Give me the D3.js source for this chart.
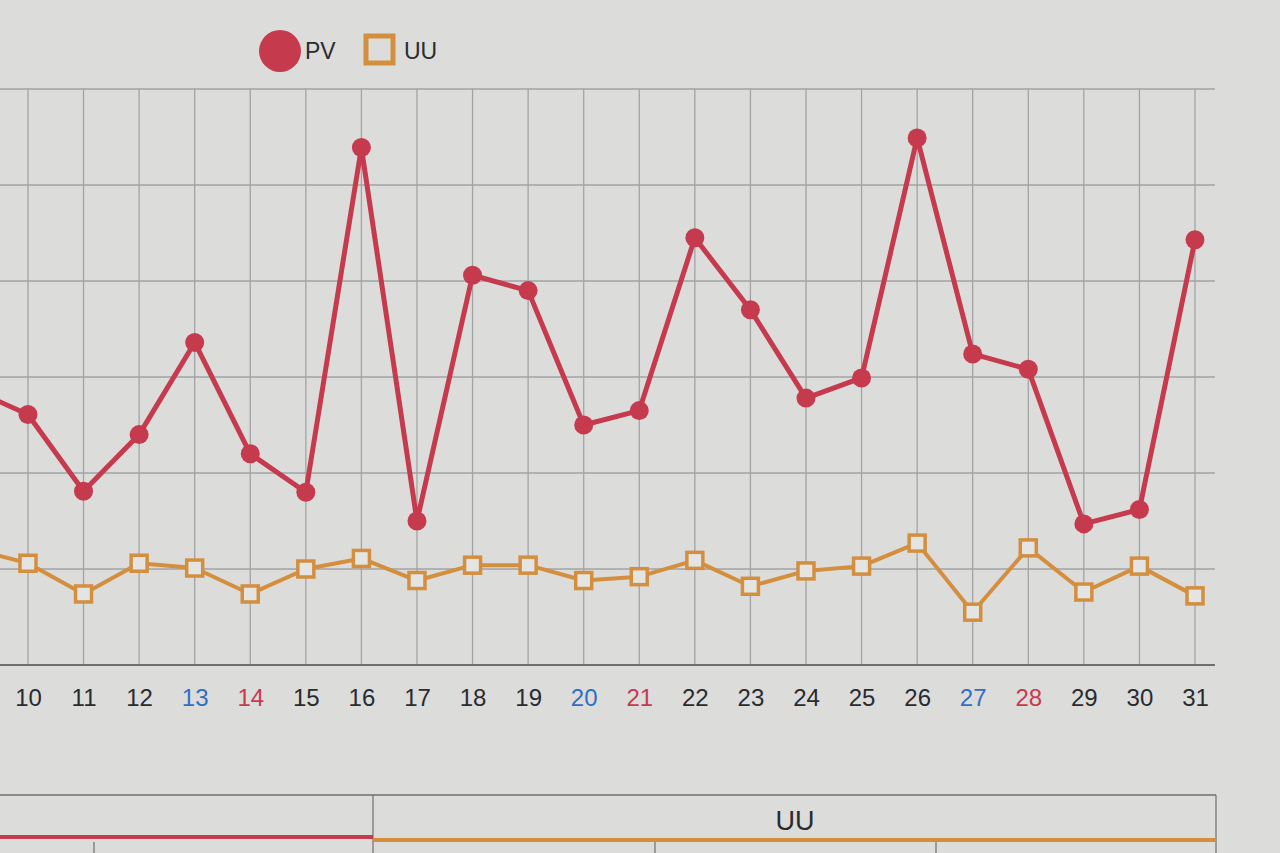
<!DOCTYPE html>
<html><head><meta charset="utf-8">
<script src="https://cdn.jsdelivr.net/npm/d3@7"></script>
<style>
html,body{margin:0;padding:0;background:#dcdcdb;overflow:hidden}
svg{display:block}
text{font-family:"Liberation Sans",Arial,sans-serif}
</style></head>
<body>
<svg id="c" width="1280" height="853"></svg>
<script>
const days = [9,10,11,12,13,14,15,16,17,18,19,20,21,22,23,24,25,26,27,28,29,30,31];
const pvValues = [287,261,181,240,336,220,180,539,150,406,390,250,265,445,370,278,299,549,324,308,147,162,443];
const uuValues = [121,106,74,106,101,74,100,111,88,104,104,88,92,109,82,98,103,127,55,122,76,103,72];
const labeledDays = [10,11,12,13,14,15,16,17,18,19,20,21,22,23,24,25,26,27,28,29,30,31];
const saturdays = [13,20,27];
const sundays = [14,21,28];
const yTicks = [0,100,200,300,400,500,600];
const seriesNames = ["PV","UU"];
const tableHeaders = ["UU"];

const PV_COLOR = "#c63a4e", UU_COLOR = "#d38f3e";
const svg = d3.select("#c");
const xLeft = -27.6, xRight = 1195, plotRight = 1215, plotLeft = -60;
const yTop = 89, yBottom = 665;

const x = d3.scalePoint().domain(days).range([xLeft, xRight]);
const y = d3.scaleLinear().domain([0,600]).range([yBottom, yTop]);

// horizontal grid
svg.append("g").selectAll("line").data(yTicks.filter(t=>t>0)).join("line")
  .attr("x1", plotLeft).attr("x2", plotRight)
  .attr("y1", d=>y(d)).attr("y2", d=>y(d))
  .attr("stroke", "#a2a3a5").attr("stroke-width", 1.3);
// vertical grid
svg.append("g").selectAll("line").data(days).join("line")
  .attr("x1", d=>x(d)).attr("x2", d=>x(d))
  .attr("y1", yTop).attr("y2", yBottom)
  .attr("stroke", "#a2a3a5").attr("stroke-width", 1.3);

// x axis
const xAxis = d3.axisBottom(x).tickValues(labeledDays).tickSize(0).tickPadding(24);
const gx = svg.append("g").attr("transform", `translate(0,${yBottom})`).call(xAxis);
gx.select(".domain").remove();
svg.append("line").attr("x1", plotLeft).attr("x2", plotRight).attr("y1", yBottom).attr("y2", yBottom)
  .attr("stroke", "#6e6f70").attr("stroke-width", 2);
gx.selectAll("text").attr("font-size", 24)
  .attr("fill", d => saturdays.includes(d) ? "#2f6fc4" : sundays.includes(d) ? "#c8394e" : "#2a2b2e");

// lines
const line = d3.line().x((d,i)=>x(days[i])).y(d=>y(d));
svg.append("path").datum(uuValues).attr("d", line).attr("fill","none")
  .attr("stroke", UU_COLOR).attr("stroke-width", 4).attr("stroke-linejoin","round");
svg.append("g").selectAll("rect").data(uuValues).join("rect")
  .attr("x", (d,i)=>x(days[i])-8).attr("y", d=>y(d)-8).attr("width",16).attr("height",16)
  .attr("fill","#e4e4e2").attr("stroke", UU_COLOR).attr("stroke-width", 3.5);

svg.append("path").datum(pvValues).attr("d", line).attr("fill","none")
  .attr("stroke", PV_COLOR).attr("stroke-width", 5).attr("stroke-linejoin","round");
svg.append("g").selectAll("circle").data(pvValues).join("circle")
  .attr("cx", (d,i)=>x(days[i])).attr("cy", d=>y(d)).attr("r", 9.5)
  .attr("fill", PV_COLOR);

// legend
const lg = svg.append("g");
lg.append("circle").attr("cx",280).attr("cy",51).attr("r",21).attr("fill",PV_COLOR);
lg.append("text").attr("x",305).attr("y",59).attr("font-size",23).attr("fill","#2a2b2e").text(seriesNames[0]);
lg.append("rect").attr("x",366).attr("y",36).attr("width",27).attr("height",27)
  .attr("fill","none").attr("stroke",UU_COLOR).attr("stroke-width",5);
lg.append("text").attr("x",404).attr("y",59).attr("font-size",23).attr("fill","#2a2b2e").text(seriesNames[1]);

// bottom table
const tb = svg.append("g");
tb.append("line").attr("x1",0).attr("x2",1216).attr("y1",795).attr("y2",795).attr("stroke","#6e6f70").attr("stroke-width",1.5);
tb.append("line").attr("x1",373).attr("x2",373).attr("y1",795).attr("y2",853).attr("stroke","#6e6f70").attr("stroke-width",1.2);
tb.append("line").attr("x1",1216).attr("x2",1216).attr("y1",795).attr("y2",853).attr("stroke","#6e6f70").attr("stroke-width",1.2);
tb.append("text").attr("x",795).attr("y",830).attr("text-anchor","middle").attr("font-size",27).attr("fill","#2a2b2e").text(tableHeaders[0]);
tb.append("line").attr("x1",0).attr("x2",373).attr("y1",837).attr("y2",837).attr("stroke",PV_COLOR).attr("stroke-width",4);
tb.append("line").attr("x1",373).attr("x2",1216).attr("y1",840).attr("y2",840).attr("stroke",UU_COLOR).attr("stroke-width",4);
[94,655,936].forEach(xx=>{
  tb.append("line").attr("x1",xx).attr("x2",xx).attr("y1",842).attr("y2",853).attr("stroke","#6e6f70").attr("stroke-width",1.2);
});
</script>
</body></html>
